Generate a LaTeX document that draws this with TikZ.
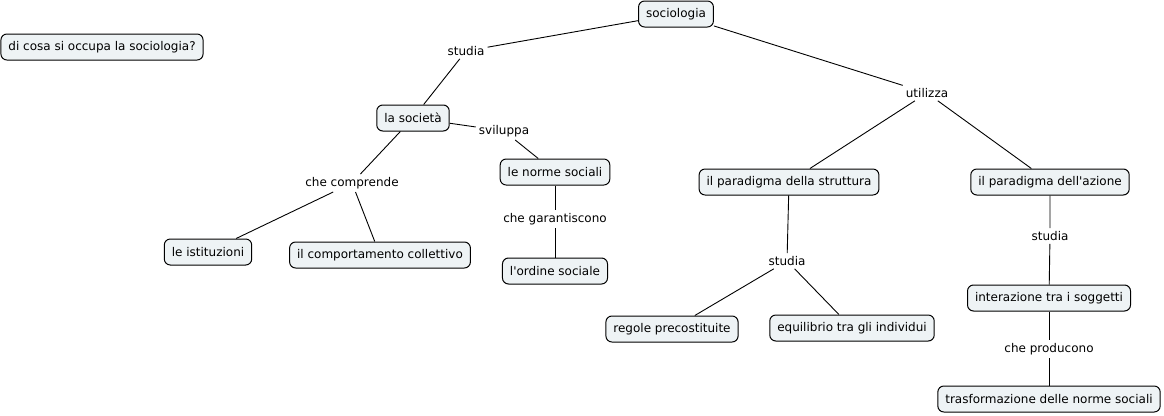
\documentclass[tikz,border=0pt]{standalone}
\usepackage{fontspec}
\setmainfont{DejaVu Sans}
\definecolor{conceptfill}{HTML}{EEF3F5}
\begin{document}
\begin{tikzpicture}[x=1pt, y=-1pt,
    font=\fontsize{12}{14}\selectfont,
    concept/.style={draw, line width=1pt, rounded corners=6pt, fill=conceptfill,
      minimum height=26pt, inner xsep=7.5pt, inner ysep=3pt},
    linking/.style={inner sep=3pt},
    link/.style={line width=0.9pt}]
  \useasboundingbox (0, 0) rectangle (1164, 415);

  \node[concept] (sociologia) at (676, 14) {sociologia};
  \node[concept] (domanda) at (102, 47) {di cosa si occupa la sociologia?};
  \node[concept] (societa) at (413, 118) {la società};
  \node[concept] (norme) at (555, 172) {le norme sociali};
  \node[concept] (struttura) at (789, 182) {il paradigma della struttura};
  \node[concept] (azione) at (1050, 182) {il paradigma dell\textquotesingle azione};
  \node[concept] (istituzioni) at (208, 252) {le istituzioni};
  \node[concept] (comportamento) at (380, 255) {il comportamento collettivo};
  \node[concept] (ordine) at (555, 271) {l\textquotesingle ordine sociale};
  \node[concept] (interazione) at (1049, 298) {interazione tra i soggetti};
  \node[concept] (regole) at (672, 329) {regole precostituite};
  \node[concept] (equilibrio) at (852, 328) {equilibrio tra gli individui};
  \node[concept] (trasformazione) at (1049, 399) {trasformazione delle norme sociali};

  % parole di collegamento
  \node[linking] (studiaA) at (466, 51) {studia};
  \node[linking] (utilizza) at (927, 93) {utilizza};
  \node[linking] (sviluppa) at (504, 131) {sviluppa};
  \node[linking] (comprende) at (352, 183) {che comprende};
  \node[linking] (garantiscono) at (555, 219) {che garantiscono};
  \node[linking] (studiaB) at (787, 261) {studia};
  \node[linking] (studiaC) at (1050, 236) {studia};
  \node[linking] (producono) at (1049, 349) {che producono};

  \draw[link] (sociologia) -- (studiaA) -- (societa);
  \draw[link] (sociologia) -- (utilizza);
  \draw[link] (utilizza) -- (struttura);
  \draw[link] (utilizza) -- (azione);
  \draw[link] (societa) -- (sviluppa) -- (norme);
  \draw[link] (societa) -- (comprende);
  \draw[link] (comprende) -- (istituzioni);
  \draw[link] (comprende) -- (comportamento);
  \draw[link] (norme) -- (garantiscono) -- (ordine);
  \draw[link] (struttura) -- (studiaB);
  \draw[link] (studiaB) -- (regole);
  \draw[link] (studiaB) -- (equilibrio);
  \draw[link] (azione) -- (studiaC) -- (interazione);
  \draw[link] (interazione) -- (producono) -- (trasformazione);
\end{tikzpicture}
\end{document}
